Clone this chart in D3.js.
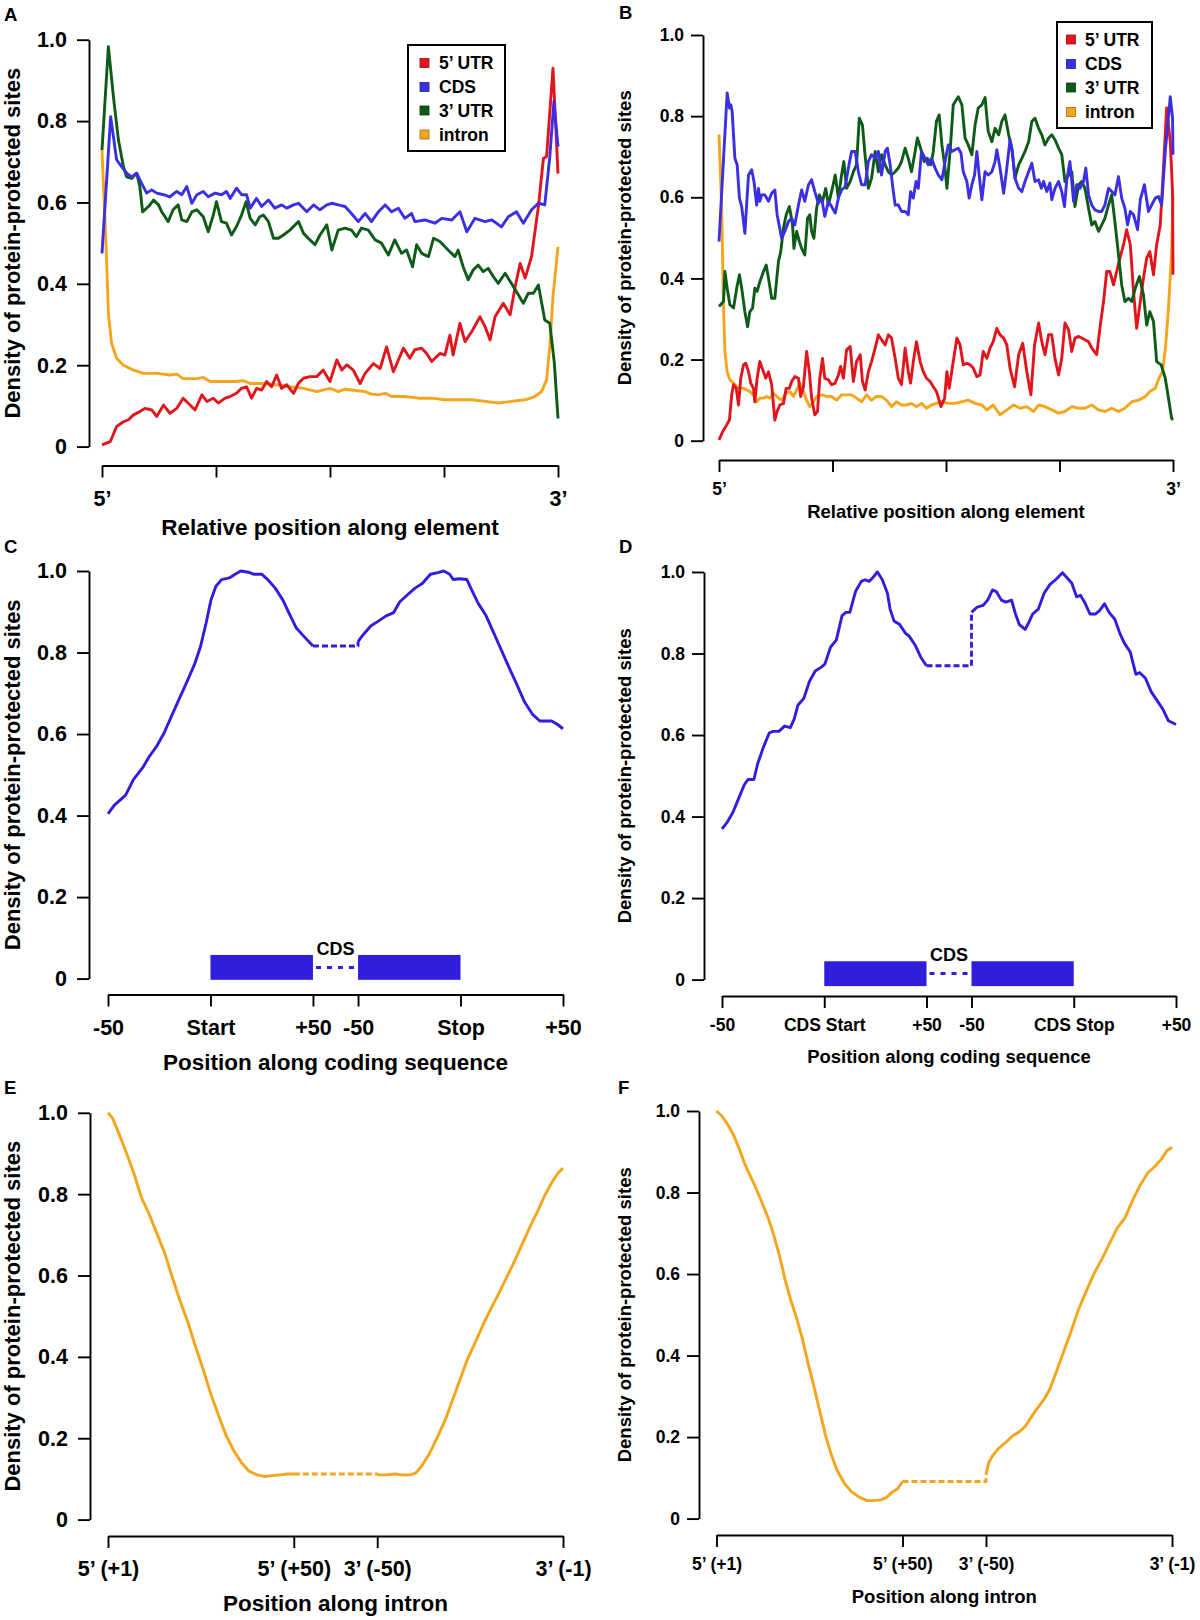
<!DOCTYPE html>
<html><head><meta charset="utf-8">
<script src="https://cdn.jsdelivr.net/npm/d3@7"></script>
<style>
html,body{margin:0;padding:0;background:#fff;}
svg{display:block;}
</style></head><body>
<svg id="fig" width="1200" height="1620"></svg>
<script>
// ---------------- DATA ----------------
const yTicks = [0, 0.2, 0.4, 0.6, 0.8, 1.0];
const yTickLabels = ["0", "0.2", "0.4", "0.6", "0.8", "1.0"];
const elemTicks = [0, 25, 50, 75, 100];
const elemTickLabels = ["5\u2019", "", "", "", "3\u2019"];
const legendLabels = ["5\u2019 UTR", "CDS", "3\u2019 UTR", "intron"];
const cdsTicks = [0, 50, 100, 122, 172, 222];
const cdsTickLabelsC = ["-50", "Start", "+50", "-50", "Stop", "+50"];
const cdsTickLabelsD = ["-50", "CDS Start", "+50", "-50", "CDS Stop", "+50"];
const intronTicks = [1, 50, 72, 121];
const intronTickLabels = ["5\u2019 (+1)", "5\u2019 (+50)", "3\u2019 (-50)", "3\u2019 (-1)"];

// Panel A: [relative position %, density]
const A_utr5 = [[0,0.004],[1.8,0.012],[3.2,0.049],[4.7,0.061],[5.8,0.066],[6.9,0.078],[8.3,0.086],[9.4,0.094],[10.9,0.090],[12.0,0.074],[13.5,0.102],[14.9,0.082],[16.4,0.094],[17.8,0.119],[19.3,0.102],[20.4,0.090],[21.9,0.127],[23.0,0.111],[24.4,0.119],[25.5,0.107],[27.0,0.119],[28.1,0.123],[29.5,0.131],[30.6,0.143],[31.7,0.147],[32.8,0.119],[33.9,0.143],[35.0,0.139],[36.1,0.160],[37.2,0.147],[38.3,0.176],[39.4,0.143],[40.5,0.152],[42.0,0.131],[43.1,0.156],[44.2,0.168],[45.6,0.172],[47.1,0.172],[48.5,0.188],[50.0,0.160],[51.5,0.213],[52.6,0.188],[53.7,0.201],[55.1,0.188],[56.6,0.155],[57.7,0.180],[59.5,0.204],[61.0,0.192],[62.4,0.245],[63.9,0.184],[66.1,0.242],[67.5,0.217],[68.6,0.238],[70.1,0.242],[71.2,0.229],[72.3,0.209],[74.1,0.229],[75.2,0.225],[76.3,0.274],[77.0,0.225],[78.5,0.303],[79.6,0.258],[81.1,0.283],[82.9,0.319],[84.0,0.295],[85.1,0.262],[86.2,0.319],[88.0,0.352],[89.5,0.324],[90.6,0.393],[91.7,0.450],[92.8,0.414],[94.2,0.467],[95.7,0.590],[96.8,0.708],[97.5,0.713],[98.9,0.930],[100,0.671]];
const A_cds = [[0,0.475],[1.9,0.811],[3.2,0.705],[4.3,0.688],[5.4,0.672],[6.5,0.663],[7.6,0.672],[8.7,0.647],[9.8,0.623],[10.9,0.631],[12.0,0.623],[13.5,0.619],[14.9,0.614],[16.4,0.627],[17.5,0.619],[18.6,0.639],[19.7,0.598],[20.8,0.619],[22.2,0.627],[23.3,0.614],[24.8,0.623],[26.2,0.619],[27.3,0.627],[28.1,0.610],[29.5,0.635],[30.6,0.619],[31.7,0.619],[32.5,0.586],[33.9,0.610],[35.0,0.590],[36.5,0.606],[37.9,0.586],[39.4,0.594],[40.5,0.586],[42.0,0.594],[43.1,0.598],[44.9,0.577],[46.4,0.594],[47.8,0.582],[49.3,0.594],[50.4,0.598],[51.8,0.594],[53.3,0.590],[54.7,0.573],[56.2,0.553],[57.7,0.573],[59.1,0.553],[60.6,0.577],[62.1,0.594],[63.5,0.577],[65.0,0.586],[66.4,0.561],[67.9,0.573],[68.6,0.553],[70.8,0.557],[73.0,0.549],[74.5,0.561],[76.7,0.557],[78.5,0.577],[80.0,0.528],[81.8,0.561],[84.0,0.553],[85.5,0.557],[87.6,0.540],[89.1,0.565],[90.9,0.577],[92.4,0.549],[94.2,0.582],[95.7,0.598],[97.1,0.594],[98.2,0.712],[99.1,0.848],[100,0.737]];
const A_utr3 = [[0,0.729],[1.4,0.983],[2.5,0.860],[3.6,0.754],[4.7,0.688],[5.4,0.663],[6.5,0.659],[7.6,0.672],[8.3,0.639],[8.9,0.577],[10.2,0.590],[11.3,0.606],[12.4,0.594],[13.1,0.577],[14.5,0.553],[15.6,0.582],[16.7,0.594],[17.5,0.557],[18.6,0.553],[19.7,0.577],[20.8,0.582],[22.2,0.565],[23.3,0.528],[24.4,0.569],[25.1,0.602],[26.2,0.553],[27.3,0.549],[28.4,0.520],[29.5,0.541],[30.6,0.569],[31.6,0.602],[32.5,0.561],[33.6,0.545],[34.6,0.565],[35.4,0.569],[36.5,0.553],[37.6,0.512],[38.7,0.512],[39.8,0.520],[41.2,0.532],[43.1,0.553],[44.2,0.524],[45.6,0.508],[46.7,0.496],[47.8,0.520],[49.3,0.545],[50.4,0.483],[51.8,0.532],[53.3,0.537],[54.7,0.532],[55.8,0.516],[56.9,0.537],[58.4,0.532],[59.9,0.508],[61.3,0.500],[62.8,0.471],[64.2,0.508],[65.7,0.475],[66.8,0.483],[68.1,0.442],[69.0,0.496],[70.1,0.475],[71.6,0.467],[72.7,0.512],[74.1,0.504],[75.9,0.483],[77.4,0.467],[78.1,0.483],[79.2,0.442],[80.3,0.410],[81.4,0.434],[82.5,0.446],[83.6,0.430],[84.7,0.438],[85.8,0.418],[86.9,0.401],[88.4,0.426],[89.8,0.401],[91.3,0.373],[92.4,0.352],[93.5,0.377],[94.6,0.377],[95.7,0.397],[97.1,0.311],[98.2,0.303],[99.2,0.205],[100,0.069]];
const A_intron = [[0,0.729],[0.9,0.491],[1.4,0.327],[2.1,0.254],[3.2,0.217],[4.7,0.200],[6.9,0.188],[9.1,0.180],[12.0,0.180],[14.9,0.176],[16.4,0.178],[17.8,0.167],[20.8,0.167],[22.2,0.170],[23.7,0.160],[26.6,0.160],[29.5,0.160],[31.0,0.162],[32.5,0.155],[35.4,0.155],[38.3,0.152],[41.2,0.147],[44.2,0.143],[47.1,0.135],[50.0,0.143],[51.8,0.135],[53.3,0.141],[54.7,0.139],[57.7,0.135],[59.1,0.129],[60.6,0.127],[62.1,0.131],[63.5,0.123],[66.4,0.123],[69.4,0.119],[72.3,0.119],[75.2,0.115],[78.1,0.115],[81.1,0.115],[84.0,0.111],[86.9,0.107],[89.8,0.111],[92.8,0.115],[94.9,0.123],[96.4,0.135],[97.5,0.164],[98.2,0.246],[98.9,0.369],[100,0.491]];

// Panel B: [relative position %, density]
const B_utr5 = [[0,0.002],[0.8,0.022],[1.7,0.039],[2.3,0.051],[2.8,0.113],[3.2,0.138],[3.8,0.129],[4.3,0.088],[4.8,0.154],[5.4,0.187],[5.9,0.191],[6.5,0.170],[7.0,0.142],[7.6,0.129],[7.9,0.096],[8.4,0.154],[9.0,0.195],[9.8,0.170],[10.3,0.154],[10.9,0.170],[11.6,0.138],[12.3,0.051],[12.8,0.072],[13.4,0.088],[14.2,0.092],[14.8,0.129],[15.5,0.129],[16.0,0.146],[16.7,0.158],[17.5,0.154],[18.0,0.109],[18.6,0.133],[19.3,0.220],[19.9,0.170],[20.4,0.105],[21.1,0.064],[21.7,0.072],[22.2,0.154],[22.8,0.203],[23.3,0.154],[24.1,0.150],[24.8,0.138],[25.6,0.142],[26.3,0.162],[26.8,0.183],[27.4,0.154],[28.1,0.224],[28.9,0.232],[29.6,0.146],[30.3,0.195],[31.1,0.212],[31.6,0.146],[32.2,0.125],[32.9,0.170],[33.6,0.195],[34.4,0.228],[35.1,0.261],[35.8,0.249],[36.6,0.236],[37.3,0.261],[38.0,0.253],[38.8,0.203],[39.5,0.154],[40.2,0.138],[41.0,0.228],[41.7,0.170],[42.2,0.142],[42.8,0.195],[43.5,0.244],[44.3,0.195],[45.0,0.170],[45.7,0.154],[46.5,0.146],[47.2,0.133],[47.9,0.121],[48.9,0.084],[49.7,0.105],[50.2,0.170],[50.7,0.129],[51.6,0.195],[52.4,0.253],[53.1,0.236],[53.8,0.187],[54.6,0.191],[55.3,0.187],[56.0,0.179],[56.8,0.158],[57.5,0.162],[58.2,0.220],[59.0,0.203],[59.7,0.228],[60.4,0.244],[61.2,0.277],[61.9,0.261],[62.7,0.253],[63.4,0.236],[64.1,0.179],[65.1,0.133],[66.0,0.212],[66.9,0.240],[67.8,0.170],[68.7,0.113],[69.5,0.236],[70.4,0.290],[71.1,0.244],[71.8,0.212],[72.6,0.261],[73.3,0.261],[74.0,0.203],[74.8,0.162],[75.5,0.203],[76.2,0.290],[77.0,0.273],[77.7,0.220],[78.4,0.253],[79.2,0.257],[79.9,0.253],[80.6,0.249],[81.4,0.244],[82.1,0.228],[83.2,0.212],[83.9,0.277],[84.7,0.343],[85.4,0.417],[86.1,0.417],[86.9,0.384],[87.6,0.417],[88.3,0.450],[89.1,0.483],[89.8,0.520],[90.6,0.483],[91.3,0.368],[92.0,0.277],[92.8,0.343],[93.5,0.401],[94.2,0.450],[94.9,0.466],[95.7,0.409],[96.4,0.483],[97.2,0.532],[97.9,0.672],[98.6,0.820],[99.4,0.737],[99.9,0.614],[100,0.409]];
const B_cds = [[0,0.491],[1.0,0.696],[1.8,0.857],[2.3,0.820],[2.6,0.828],[2.9,0.811],[3.5,0.696],[4.0,0.680],[4.5,0.598],[5.0,0.577],[5.7,0.511],[6.5,0.655],[7.2,0.668],[7.7,0.639],[8.3,0.581],[8.7,0.622],[9.0,0.590],[9.4,0.606],[10.1,0.606],[10.9,0.590],[11.6,0.610],[12.3,0.618],[12.8,0.557],[13.8,0.499],[14.5,0.516],[15.3,0.540],[16.0,0.548],[16.7,0.532],[17.5,0.581],[18.2,0.618],[18.9,0.590],[19.7,0.631],[20.4,0.643],[21.1,0.614],[21.9,0.585],[22.6,0.598],[23.3,0.553],[24.1,0.590],[24.8,0.577],[25.6,0.561],[26.3,0.598],[27.0,0.618],[27.8,0.626],[28.5,0.672],[29.2,0.713],[30.0,0.713],[30.7,0.663],[31.4,0.631],[32.2,0.631],[32.9,0.688],[33.6,0.705],[34.4,0.696],[35.1,0.713],[35.8,0.655],[36.6,0.713],[37.1,0.721],[37.7,0.680],[38.4,0.614],[38.8,0.581],[39.5,0.581],[40.2,0.565],[41.0,0.565],[41.7,0.557],[42.2,0.614],[42.8,0.598],[43.4,0.639],[43.9,0.622],[44.6,0.713],[45.4,0.696],[46.1,0.680],[46.8,0.696],[47.6,0.672],[48.3,0.655],[49.1,0.643],[49.8,0.688],[50.5,0.729],[51.3,0.713],[52.0,0.717],[52.7,0.721],[53.3,0.709],[53.8,0.663],[54.6,0.639],[55.1,0.598],[55.7,0.631],[56.3,0.655],[56.8,0.713],[57.3,0.655],[57.9,0.594],[58.6,0.663],[59.3,0.655],[60.1,0.663],[60.8,0.688],[61.2,0.717],[61.9,0.672],[62.7,0.610],[63.4,0.672],[64.1,0.742],[64.6,0.713],[65.2,0.647],[66.0,0.622],[66.7,0.614],[67.4,0.639],[68.2,0.663],[68.9,0.684],[69.6,0.639],[70.4,0.643],[71.0,0.622],[71.5,0.639],[72.2,0.614],[72.9,0.635],[73.3,0.594],[74.0,0.622],[74.8,0.639],[75.5,0.614],[76.1,0.577],[76.6,0.643],[77.3,0.688],[78.1,0.590],[78.8,0.631],[79.5,0.622],[80.3,0.639],[80.8,0.672],[81.4,0.606],[82.1,0.581],[82.8,0.569],[83.6,0.565],[84.3,0.565],[85.0,0.581],[85.8,0.622],[86.5,0.614],[87.2,0.606],[88.0,0.651],[88.7,0.598],[89.4,0.573],[90.0,0.532],[90.6,0.565],[91.3,0.557],[92.2,0.520],[92.8,0.594],[93.7,0.631],[94.6,0.565],[95.3,0.581],[96.1,0.598],[96.8,0.602],[97.5,0.581],[98.3,0.713],[99.4,0.848],[99.9,0.795],[100,0.705]];
const B_utr3 = [[0,0.331],[1.0,0.343],[1.3,0.417],[1.8,0.376],[2.4,0.335],[3.2,0.327],[3.9,0.376],[4.5,0.409],[5.0,0.376],[5.7,0.318],[6.3,0.281],[6.8,0.318],[7.4,0.327],[7.9,0.376],[8.4,0.368],[9.0,0.392],[9.8,0.417],[10.4,0.433],[10.9,0.401],[11.6,0.351],[12.3,0.351],[13.1,0.442],[13.6,0.466],[14.2,0.524],[14.8,0.557],[15.5,0.577],[16.2,0.532],[16.5,0.474],[17.1,0.516],[17.7,0.491],[18.2,0.474],[18.9,0.458],[19.5,0.548],[20.0,0.557],[20.4,0.516],[20.9,0.499],[21.5,0.573],[22.1,0.606],[22.8,0.590],[23.5,0.622],[24.1,0.581],[24.8,0.614],[25.6,0.655],[26.3,0.598],[27.0,0.655],[27.5,0.688],[28.1,0.622],[28.9,0.639],[29.6,0.663],[30.3,0.680],[30.9,0.795],[31.6,0.778],[32.1,0.713],[32.9,0.622],[33.6,0.647],[34.4,0.713],[35.1,0.663],[35.8,0.705],[36.6,0.680],[37.3,0.663],[38.0,0.655],[38.8,0.663],[39.5,0.672],[40.2,0.688],[41.0,0.721],[41.7,0.696],[42.4,0.663],[43.2,0.713],[43.7,0.746],[44.4,0.721],[45.2,0.688],[45.9,0.696],[46.7,0.680],[47.2,0.713],[47.9,0.787],[48.5,0.803],[49.1,0.729],[49.7,0.680],[50.2,0.622],[50.9,0.713],[51.6,0.828],[52.7,0.848],[53.5,0.828],[54.2,0.746],[54.9,0.729],[55.7,0.705],[56.4,0.778],[57.1,0.820],[57.9,0.828],[58.6,0.846],[59.3,0.762],[60.1,0.737],[60.8,0.770],[61.6,0.754],[62.3,0.787],[63.0,0.803],[63.8,0.754],[64.5,0.721],[65.2,0.647],[66.0,0.680],[66.7,0.696],[67.4,0.713],[68.2,0.737],[68.9,0.787],[69.6,0.795],[70.4,0.770],[71.1,0.754],[71.8,0.729],[72.6,0.746],[73.3,0.754],[74.0,0.742],[74.8,0.721],[75.5,0.705],[76.2,0.639],[77.0,0.655],[77.7,0.663],[78.4,0.577],[79.2,0.631],[79.9,0.639],[80.6,0.622],[81.4,0.573],[82.1,0.532],[82.8,0.540],[83.6,0.516],[84.3,0.532],[85.0,0.548],[85.8,0.581],[86.5,0.606],[87.2,0.540],[88.0,0.458],[88.7,0.384],[89.4,0.343],[90.2,0.351],[90.9,0.343],[91.7,0.376],[92.6,0.405],[93.5,0.359],[94.2,0.285],[94.9,0.318],[95.7,0.294],[96.4,0.195],[97.4,0.187],[98.3,0.154],[99.0,0.105],[99.7,0.055],[100,0.051]];
const B_intron = [[0,0.755],[0.6,0.573],[1.0,0.327],[1.3,0.220],[1.8,0.170],[2.4,0.150],[3.2,0.142],[3.9,0.133],[4.6,0.129],[5.4,0.129],[6.1,0.125],[6.8,0.121],[7.6,0.113],[8.3,0.096],[9.0,0.105],[9.8,0.105],[10.5,0.109],[11.2,0.105],[12.0,0.117],[13.1,0.105],[13.8,0.100],[14.8,0.117],[15.6,0.121],[16.4,0.109],[17.1,0.125],[17.8,0.142],[18.6,0.121],[19.3,0.100],[20.0,0.084],[20.8,0.096],[21.5,0.109],[22.6,0.113],[23.7,0.109],[24.8,0.109],[25.9,0.100],[27.0,0.113],[28.1,0.113],[29.2,0.113],[30.3,0.105],[31.4,0.096],[32.5,0.113],[33.6,0.100],[34.7,0.109],[35.8,0.109],[36.9,0.100],[38.0,0.084],[39.1,0.096],[40.2,0.088],[41.3,0.088],[42.4,0.092],[43.5,0.084],[44.6,0.092],[45.7,0.080],[46.8,0.088],[47.9,0.092],[49.1,0.096],[50.5,0.092],[52.0,0.092],[53.5,0.096],[54.9,0.100],[56.4,0.092],[57.9,0.088],[59.0,0.076],[60.4,0.088],[61.9,0.064],[63.4,0.076],[64.9,0.088],[66.3,0.080],[67.8,0.084],[69.3,0.072],[70.4,0.088],[71.8,0.084],[73.3,0.076],[74.8,0.068],[76.2,0.072],[77.7,0.084],[79.2,0.080],[80.6,0.080],[82.1,0.088],[83.6,0.076],[85.0,0.072],[86.5,0.080],[88.0,0.072],[89.4,0.080],[90.9,0.096],[92.4,0.100],[93.9,0.109],[94.9,0.121],[96.1,0.129],[96.9,0.154],[97.7,0.170],[98.4,0.236],[99.0,0.327],[99.7,0.466],[100,0.602]];

// Panel C: [nt relative to start / stop, density]
const C_start = [[-50,0.404],[-47,0.425],[-41.4,0.450],[-37.6,0.488],[-33,0.518],[-30.1,0.543],[-26.4,0.569],[-22.7,0.602],[-18.9,0.645],[-15.2,0.687],[-11.4,0.729],[-7.7,0.772],[-4.9,0.814],[-2.1,0.873],[0.2,0.928],[2.6,0.962],[5.4,0.979],[9.2,0.983],[12.0,0.992],[14.8,1.0],[18.5,0.997],[21.3,0.992],[25.1,0.992],[27.9,0.979],[31.6,0.958],[35.4,0.928],[38.2,0.898],[41.9,0.860],[45.7,0.839],[50,0.816]];
const C_stop = [[-50,0.827],[-47.6,0.843],[-43.8,0.865],[-40.1,0.877],[-36.3,0.890],[-32.6,0.898],[-29.7,0.924],[-26,0.941],[-22.2,0.958],[-18.5,0.970],[-14.7,0.992],[-11,0.996],[-8.2,1.0],[-5.3,0.992],[-3.5,0.979],[-0.7,0.981],[3.1,0.979],[5.9,0.949],[8.7,0.920],[12.5,0.890],[16.2,0.848],[20,0.805],[23.7,0.763],[27.5,0.721],[31.2,0.679],[35,0.649],[38.7,0.632],[41.5,0.632],[44.4,0.632],[47.2,0.624],[50,0.613]];
const C_cdsBox = [-0.003, 0.058];
const C_cdsGap = 0.027;

// Panel D
const D_start = [[-50,0.370],[-47.6,0.385],[-44.7,0.410],[-41.9,0.444],[-39.1,0.478],[-37.2,0.491],[-34.4,0.491],[-32.6,0.529],[-29.7,0.571],[-26.9,0.605],[-25.0,0.609],[-22.2,0.609],[-19.4,0.622],[-16.6,0.618],[-14.7,0.639],[-12.9,0.673],[-10.0,0.690],[-7.2,0.732],[-4.4,0.757],[-1.6,0.766],[0.3,0.774],[3.1,0.816],[5.9,0.833],[8.7,0.893],[10.6,0.901],[12.5,0.901],[15.3,0.952],[18.1,0.977],[20.0,0.981],[21.9,0.977],[23.7,0.986],[26.0,1.0],[28.4,0.981],[30.9,0.948],[32.2,0.909],[34.1,0.880],[36.9,0.871],[39.7,0.850],[41.6,0.842],[44.4,0.821],[47.2,0.791],[50,0.770]];
const D_stop = [[-50,0.901],[-47.2,0.914],[-44.4,0.918],[-42.1,0.931],[-39.7,0.956],[-37.9,0.952],[-35.4,0.931],[-33.2,0.926],[-30.4,0.931],[-28.5,0.897],[-26.6,0.871],[-23.8,0.859],[-22.0,0.876],[-20.1,0.897],[-17.3,0.909],[-14.5,0.948],[-11.7,0.969],[-8.9,0.981],[-5.5,0.998],[-3.3,0.986],[-1.0,0.973],[1.4,0.939],[3.3,0.943],[5.7,0.922],[7.9,0.897],[10.7,0.897],[12.6,0.905],[15.0,0.922],[17.3,0.901],[20.1,0.884],[22.5,0.850],[24.8,0.825],[27.6,0.804],[30.4,0.749],[32.2,0.753],[35.0,0.740],[37.9,0.706],[40.7,0.685],[43.5,0.664],[46.3,0.635],[50,0.626]];
const D_cdsBox = [-0.016, 0.045];
const D_cdsGap = 0.015;

// Panel E: 5' side [+nt], 3' side [-nt]
const E_five = [[1,1.0],[2.2,0.987],[3.7,0.953],[5.8,0.903],[7.8,0.852],[9.8,0.792],[11.9,0.750],[13.9,0.703],[15.9,0.657],[17.9,0.597],[20.0,0.538],[22.0,0.487],[24.0,0.428],[26.1,0.369],[28.1,0.309],[30.1,0.258],[32.1,0.208],[34.2,0.169],[36.2,0.140],[38.2,0.119],[40.3,0.110],[42.3,0.106],[44.3,0.108],[46.3,0.110],[48.4,0.112],[50,0.112]];
const E_three = [[-50,0.110],[-47.5,0.110],[-45.4,0.112],[-43.4,0.110],[-41.4,0.110],[-39.9,0.114],[-38.3,0.131],[-36.3,0.161],[-34.3,0.199],[-32.2,0.242],[-30.2,0.292],[-28.2,0.343],[-26.2,0.394],[-24.1,0.436],[-22.1,0.479],[-20.1,0.517],[-18.0,0.555],[-16.0,0.593],[-14.0,0.631],[-11.9,0.674],[-9.9,0.716],[-7.9,0.754],[-5.8,0.797],[-3.8,0.831],[-2.3,0.852],[-1,0.864]];

// Panel F
const F_five = [[1,1.0],[2.5,0.987],[4.0,0.966],[5.5,0.941],[7.0,0.907],[8.5,0.869],[10.6,0.827],[12.6,0.784],[14.6,0.738],[16.1,0.695],[17.6,0.645],[19.1,0.585],[20.6,0.535],[22.1,0.492],[23.6,0.442],[25.1,0.382],[26.7,0.323],[28.2,0.264],[29.7,0.205],[31.2,0.158],[32.7,0.120],[34.7,0.086],[36.7,0.065],[38.7,0.052],[40.7,0.044],[42.2,0.044],[44.3,0.046],[45.8,0.052],[47.3,0.065],[48.8,0.074],[50,0.091]];
const F_three = [[-50,0.107],[-49.3,0.137],[-48.3,0.154],[-46.8,0.171],[-44.7,0.188],[-42.7,0.205],[-41.2,0.213],[-39.7,0.226],[-38.2,0.247],[-36.7,0.268],[-34.6,0.294],[-33.1,0.319],[-31.6,0.357],[-29.6,0.408],[-27.6,0.459],[-25.6,0.514],[-23.5,0.560],[-21.5,0.602],[-19.5,0.636],[-17.5,0.674],[-15.5,0.712],[-13.4,0.738],[-11.4,0.780],[-9.4,0.818],[-7.4,0.848],[-5.4,0.865],[-3.8,0.882],[-2.3,0.903],[-1,0.911]];

// ---------------- DRAWING ----------------
const FONT = "'Liberation Sans', Arial, Helvetica, sans-serif";
const COL = { utr5: "#e2151c", cds: "#3a2fe2", utr3: "#0d5b17", intron: "#f5a51c", box: "#2f1fdc" };
const svg = d3.select("#fig");

function txt(x, y, s, size, anchor) {
  return svg.append("text").attr("x", x).attr("y", y).attr("text-anchor", anchor || "start")
    .style("font-family", FONT).style("font-weight", "bold").style("font-size", size + "px")
    .attr("fill", "#000").text(s);
}

function frame(p, x, y, xTicks, xLabels, xTitle) {
  const tickFont = p.big ? 21.5 : 17.5;
  const titleFont = p.big ? 22 : 18.5;
  const gy = svg.append("g").attr("transform", `translate(${p.yx},0)`)
    .call(d3.axisLeft(y).tickValues(yTicks).tickFormat((d, i) => yTickLabels[i])
      .tickSize(12).tickSizeOuter(0).tickPadding(p.big ? 10 : 7));
  const gx = svg.append("g").attr("transform", `translate(0,${p.xa})`)
    .call(d3.axisBottom(x).tickValues(xTicks).tickFormat((d, i) => xLabels[i])
      .tickSize(12).tickSizeOuter(0).tickPadding(p.big ? 13 : 11));
  [gy, gx].forEach(g => {
    g.selectAll("path,line").attr("stroke", "#000").attr("stroke-width", 1.9);
    g.selectAll("text").attr("fill", "#000").style("font-family", FONT)
      .style("font-weight", "bold").style("font-size", tickFont + "px");
  });
  const xr = x.range();
  txt((xr[0] + xr[1]) / 2, p.xTitleY, xTitle, p.big ? 22.5 : 18.5, "middle");
  const yr = y.range();
  svg.append("text").attr("transform", `translate(${p.yTitleX},${(yr[0] + yr[1]) / 2}) rotate(-90)`)
    .attr("text-anchor", "middle").style("font-family", FONT).style("font-weight", "bold")
    .style("font-size", titleFont + "px").attr("fill", "#000").text("Density of protein-protected sites");
  txt(p.letter[0], p.letter[1], p.letter[2], 18.5, "start");
}

function drawLine(data, x, y, color, fx, dash) {
  const line = d3.line().x(d => x(fx ? fx(d[0]) : d[0])).y(d => y(d[1]));
  const path = svg.append("path").datum(data).attr("d", line).attr("fill", "none")
    .attr("stroke", color).attr("stroke-width", 2.9).attr("stroke-linejoin", "round");
  if (dash) path.attr("stroke-dasharray", dash);
  return path;
}

function legend(box, rows, colors) {
  svg.append("rect").attr("x", box.x).attr("y", box.y).attr("width", box.w).attr("height", box.h)
    .attr("fill", "#fff").attr("stroke", "#000").attr("stroke-width", 2);
  rows.forEach((r, i) => {
    const cy = box.rowY[i];
    svg.append("rect").attr("x", box.sx - 4.5).attr("y", cy - 4.5).attr("width", 9).attr("height", 9)
      .attr("fill", colors[i]).attr("stroke", d3.color(colors[i]).darker(1.2)).attr("stroke-width", 0.8);
    txt(box.tx, cy + 6.3, r, 17.5, "start");
  });
}

// ---- Panels A & B ----
function elementPanel(p, series) {
  const x = d3.scaleLinear().domain([0, 100]).range(p.xr);
  const y = d3.scaleLinear().domain([0, 1]).range([p.y0, p.y1]);
  frame(p, x, y, elemTicks, elemTickLabels, "Relative position along element");
  drawLine(series[3], x, y, COL.intron);
  drawLine(series[0], x, y, COL.utr5);
  drawLine(series[2], x, y, COL.utr3);
  drawLine(series[1], x, y, COL.cds);
  legend(p.legend, legendLabels, [COL.utr5, COL.cds, COL.utr3, COL.intron]);
}

elementPanel({ big: true, yx: 89, y0: 446.6, y1: 39.7, xa: 465.5, xr: [102, 558], xTitleY: 535, yTitleX: 20, letter: [4, 21, "A"],
  legend: { x: 408, y: 45, w: 97, h: 106, rowY: [63, 87, 110.5, 134.5], sx: 424.5, tx: 439 } },
  [A_utr5, A_cds, A_utr3, A_intron]);
elementPanel({ big: false, yx: 703, y0: 440.7, y1: 35, xa: 460, xr: [719, 1173], xTitleY: 518, yTitleX: 631, letter: [619, 19, "B"],
  legend: { x: 1057, y: 22, w: 95, h: 106, rowY: [39.5, 64, 87.5, 112], sx: 1071, tx: 1085 } },
  [B_utr5, B_cds, B_utr3, B_intron]);

// ---- Panels C & D ----
function cdsPanel(p, start, stop, labels, boxR, gapV) {
  const x = d3.scaleLinear().domain([0, 222]).range(p.xr);
  const y = d3.scaleLinear().domain([0, 1]).range([p.y0, p.y1]);
  frame(p, x, y, cdsTicks, labels, "Position along coding sequence");
  const s1 = v => v + 50, s2 = v => v + 172;
  [[50, 100], [122, 172]].forEach(seg => {
    svg.append("rect").attr("x", x(seg[0])).attr("y", y(boxR[1]))
      .attr("width", x(seg[1]) - x(seg[0])).attr("height", y(boxR[0]) - y(boxR[1])).attr("fill", COL.box);
  });
  svg.append("line").attr("x1", x(100) + 3).attr("x2", x(122) - 3).attr("y1", y(gapV)).attr("y2", y(gapV))
    .attr("stroke", COL.box).attr("stroke-width", 3).attr("stroke-dasharray", "5,6");
  txt((x(100) + x(122)) / 2, y(boxR[1]), "CDS", 18, "middle");
  drawLine(start, x, y, COL.box, s1);
  drawLine(stop, x, y, COL.box, s2);
  const e = start[start.length - 1], b = stop[0];
  drawLine([[s1(e[0]), e[1]], [s2(b[0]), e[1]], [s2(b[0]), b[1]]], x, y, COL.box, null, "6,3");
}
cdsPanel({ big: true, yx: 89, y0: 978.6, y1: 571, xa: 994.5, xr: [108, 563], xTitleY: 1070, yTitleX: 20, letter: [4, 553, "C"] },
  C_start, C_stop, cdsTickLabelsC, C_cdsBox, C_cdsGap);
cdsPanel({ big: false, yx: 704, y0: 979.6, y1: 572, xa: 996, xr: [722, 1176], xTitleY: 1063, yTitleX: 631, letter: [619, 553, "D"] },
  D_start, D_stop, cdsTickLabelsD, D_cdsBox, D_cdsGap);

// ---- Panels E & F ----
function intronPanel(p, five, three) {
  const x = d3.scaleLinear().domain([1, 121]).range(p.xr);
  const y = d3.scaleLinear().domain([0, 1]).range([p.y0, p.y1]);
  frame(p, x, y, intronTicks, intronTickLabels, "Position along intron");
  const s2 = v => v + 122;
  drawLine(five, x, y, COL.intron);
  drawLine(three, x, y, COL.intron, s2);
  const e = five[five.length - 1], b = three[0];
  drawLine([[e[0], e[1]], [s2(b[0]), e[1]], [s2(b[0]), b[1]]], x, y, COL.intron, null, "6,3");
}
intronPanel({ big: true, yx: 90, y0: 1519.6, y1: 1112.8, xa: 1536, xr: [108, 563], xTitleY: 1611, yTitleX: 20, letter: [4, 1094, "E"] },
  E_five, E_three);
intronPanel({ big: false, yx: 699, y0: 1518.6, y1: 1111, xa: 1535, xr: [716.5, 1172], xTitleY: 1603, yTitleX: 631, letter: [618, 1094, "F"] },
  F_five, F_three);
</script>
</body></html>
